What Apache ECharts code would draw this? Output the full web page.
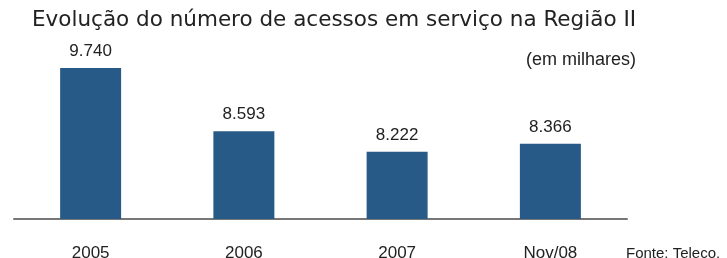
<!DOCTYPE html>
<html>
<head>
<meta charset="utf-8">
<script src="https://cdn.jsdelivr.net/npm/echarts@6/dist/echarts.min.js"></script>
<style>
  html, body { margin: 0; padding: 0; background: #fff; }
  #chart { width: 727px; height: 258px; }
</style>
</head>
<body>
<div id="chart"></div>
<script>
const categories = ['2005', '2006', '2007', 'Nov/08'];
const values = [9740, 8593, 8222, 8366];
const valueLabels = ['9.740', '8.593', '8.222', '8.366'];

const chart = echarts.init(document.getElementById('chart'));
chart.setOption({
  animation: false,
  textStyle: { fontFamily: 'Liberation Sans, Arial, sans-serif' },
  title: [
    {
      text: 'Evolução do número de acessos em serviço na Região II',
      left: 32, top: 9, padding: 0,
      textStyle: { fontSize: 21.5, fontWeight: 'normal', color: '#222', fontFamily: 'DejaVu Sans' }
    },
    {
      text: '(em milhares)',
      left: 526, top: 51, padding: 0,
      textStyle: { fontSize: 18, fontWeight: 'normal', color: '#222' }
    },
    {
      text: 'Fonte: Teleco.',
      left: 626, top: 246, padding: 0,
      textStyle: { fontSize: 15, fontWeight: 'normal', color: '#222' }
    }
  ],
  grid: { left: 14, right: 100, top: 68, bottom: 39, outerBoundsMode: 'none' },
  xAxis: {
    type: 'category',
    data: categories,
    axisLine: { lineStyle: { color: '#777', width: 2 } },
    axisTick: { show: false },
    axisLabel: { margin: 26, fontSize: 17, color: '#222' }
  },
  yAxis: {
    type: 'value',
    min: 7000,
    max: 9740,
    show: false,
    splitLine: { show: false }
  },
  series: [{
    type: 'bar',
    data: values,
    barWidth: 61,
    itemStyle: { color: '#275a87' },
    label: {
      show: true,
      position: 'top',
      distance: 8,
      fontSize: 17,
      color: '#222',
      formatter: p => valueLabels[p.dataIndex]
    }
  }]
});
</script>
</body>
</html>
